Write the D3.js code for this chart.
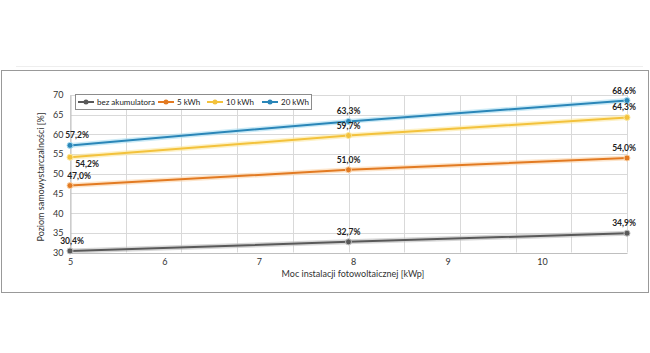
<!DOCTYPE html>
<head>
    <meta charset="utf-8">
    <style>
        html, body { margin: 0; padding: 0; background: #fff; }
        svg { display: block; font-family: Lato, "Open Sans", sans-serif; }
        .grid line { stroke: #d9d9d9; stroke-width: 1; }
        .tick text { fill: #333; font-size: 9px; font-family: Lato, sans-serif; }
        .lbl { font-size: 8.5px; font-weight: bold; fill: #222; }
    </style>
    <script src="https://d3js.org/d3.v7.min.js"></script>
</head>
<body>
    <div id="chart"></div>
    <script>
        // data
        var xValues = [5, 7.95, 10.9];
        var seriesNames = ["bez akumulatora", "5 kWh", "10 kWh", "20 kWh"];
        var bezAkumulatora = [30.4, 32.7, 34.9];
        var kwh5 = [47.0, 51.0, 54.0];
        var kwh10 = [54.2, 59.7, 64.3];
        var kwh20 = [57.2, 63.3, 68.6];
        var xTickLabels = [5, 6, 7, 8, 9, 10];
        var yTickLabels = [30, 35, 40, 45, 50, 55, 60, 65, 70];

        var colors = ["#595959", "#e27a22", "#f3c23c", "#2a86b8"];
        var glows = ["#bdbdbd", "#fbd3a8", "#fbe8a0", "#a8dcf0"];
        var allSeries = [bezAkumulatora, kwh5, kwh10, kwh20];

        var width = 650, height = 353;
        var svg = d3.select("#chart").append("svg")
            .attr("width", width)
            .attr("height", height);

        // outer frame
        svg.append("line").attr("x1", 16).attr("x2", 643).attr("y1", 66.5).attr("y2", 66.5)
            .attr("stroke", "#eee");
        svg.append("rect")
            .attr("x", 1.5).attr("y", 70.5)
            .attr("width", 647).attr("height", 222)
            .attr("fill", "none").attr("stroke", "#999");

        var x = d3.scaleLinear().domain([5, 10.9]).range([70, 627]);
        var y = d3.scaleLinear().domain([30, 70]).range([252.5, 95]);

        // gridlines
        var vGrid = d3.range(11).map(function (i) { return 5 + i * (10.9 - 5) / 10; });
        svg.append("g").attr("class", "grid")
            .selectAll("line").data(vGrid).enter().append("line")
            .attr("x1", function (d) { return Math.round(x(d)) + 0.5; })
            .attr("x2", function (d) { return Math.round(x(d)) + 0.5; })
            .attr("y1", y(70)).attr("y2", y(30));
        svg.append("g").attr("class", "grid")
            .selectAll("line").data(yTickLabels).enter().append("line")
            .attr("x1", x(5)).attr("x2", x(10.9))
            .attr("y1", function (d) { return Math.round(y(d)) + 0.5; })
            .attr("y2", function (d) { return Math.round(y(d)) + 0.5; });

        // axes
        var yAxis = svg.append("g")
            .attr("transform", "translate(" + (x(5) + 0.5) + ",0)")
            .call(d3.axisLeft(y).tickValues(yTickLabels).tickSize(0).tickPadding(7));
        yAxis.select(".domain").attr("stroke", "#bfbfbf");

        var xAxis = svg.append("g")
            .attr("transform", "translate(0," + (y(30) + 0.5) + ")")
            .call(d3.axisBottom(x).tickValues(xTickLabels).tickSize(0).tickPadding(6)
                .tickFormat(d3.format("d")));
        xAxis.select(".domain").attr("stroke", "#bfbfbf");

        svg.append("text")
            .attr("x", 353).attr("y", 277)
            .attr("text-anchor", "middle")
            .attr("font-size", 9).attr("fill", "#333")
            .text("Moc instalacji fotowoltaicznej [kWp]");
        svg.append("text")
            .attr("transform", "translate(44,177) rotate(-90)")
            .attr("text-anchor", "middle")
            .attr("font-size", 9).attr("fill", "#333")
            .text("Poziom samowystarczalności [%]");

        // lines
        var line = d3.line()
            .x(function (d, i) { return x(xValues[i]); })
            .y(function (d) { return y(d); });

        allSeries.forEach(function (values, s) {
            var g = svg.append("g");
            g.append("path").datum(values)
                .attr("d", line).attr("fill", "none")
                .attr("stroke", glows[s]).attr("stroke-width", 5).attr("opacity", 0.6);
            g.append("path").datum(values)
                .attr("d", line).attr("fill", "none")
                .attr("stroke", colors[s]).attr("stroke-width", 2);
            g.selectAll("circle").data(values).enter().append("circle")
                .attr("cx", function (d, i) { return x(xValues[i]); })
                .attr("cy", function (d) { return y(d); })
                .attr("r", 3)
                .attr("fill", colors[s])
                .attr("stroke", glows[s]).attr("stroke-width", 1);
        });

        // data labels
        var fmt = function (v) { return v.toFixed(1).replace(".", ",") + "%"; };
        var firstShift = [2, 9, 17, 7];
        allSeries.forEach(function (values, s) {
            svg.selectAll(null).data(values).enter().append("text")
                .attr("class", "lbl")
                .attr("text-anchor", "middle")
                .attr("x", function (d, i) {
                    var px = x(xValues[i]);
                    if (i === 0) return px + firstShift[s];
                    if (i === values.length - 1) return px - 3;
                    return px;
                })
                .attr("y", function (d, i) {
                    // the 10 kWh start label sits under its point
                    return (i === 0 && s === 2) ? y(d) + 10 : y(d) - 7;
                })
                .text(fmt);
        });

        // legend
        var legend = svg.append("g");
        legend.append("rect")
            .attr("x", 75.5).attr("y", 94.5)
            .attr("width", 236).attr("height", 15)
            .attr("fill", "#fff").attr("stroke", "#8c8c8c");
        var legendX = [78, 158, 207, 262];
        seriesNames.forEach(function (name, s) {
            var lx = legendX[s];
            legend.append("line")
                .attr("x1", lx).attr("x2", lx + 16)
                .attr("y1", 102).attr("y2", 102)
                .attr("stroke", colors[s]).attr("stroke-width", 2);
            legend.append("circle")
                .attr("cx", lx + 8).attr("cy", 102).attr("r", 2.5)
                .attr("fill", colors[s]);
            legend.append("text")
                .attr("x", lx + 19).attr("y", 105)
                .attr("font-size", 8).attr("fill", "#222")
                .text(name);
        });
    </script>
</body>
